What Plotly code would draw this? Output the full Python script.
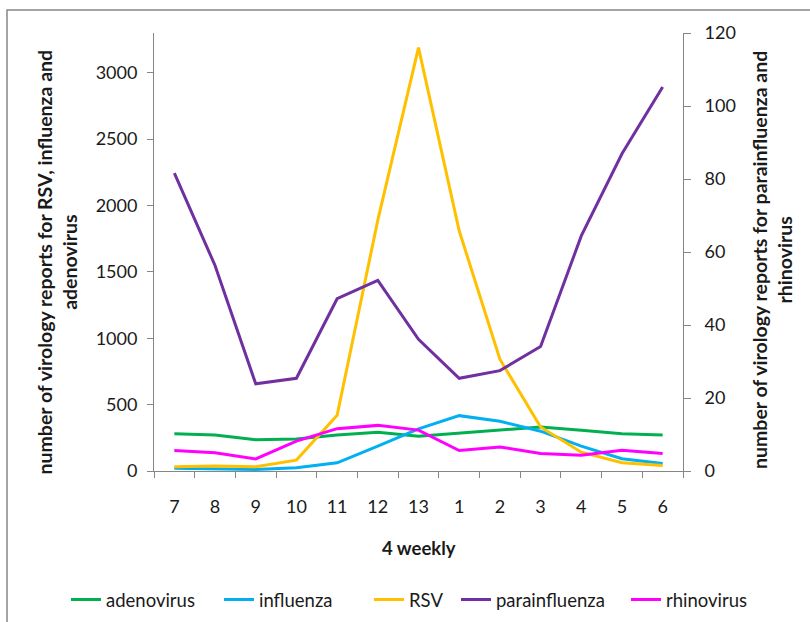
import plotly.graph_objects as go

weeks = ["7", "8", "9", "10", "11", "12", "13", "1", "2", "3", "4", "5", "6"]
adenovirus = [280, 272, 235, 242, 272, 292, 262, 287, 312, 332, 307, 280, 272]
influenza = [20, 17, 12, 25, 62, 187, 317, 417, 375, 300, 187, 92, 57]
rsv = [32, 37, 32, 82, 420, 1890, 3190, 1810, 842, 332, 142, 62, 42]
parainfluenza = [81.6, 56.3, 23.9, 25.4, 47.2, 52.2, 36.1, 25.4, 27.5, 34.1, 64.4, 86.9, 105.2]
rhinovirus = [5.6, 5.0, 3.3, 8.2, 11.6, 12.5, 11.2, 5.6, 6.6, 4.8, 4.3, 5.7, 4.8]

FONT = "Lato, 'Open Sans', sans-serif"
W, H = 810, 622
L, R, T, B = 154, 683, 33, 471


def px(x):
    return (x - L) / (R - L)


def py(y):
    return (B - y) / (B - T)


fig = go.Figure()
series = [
    ("adenovirus", adenovirus, "#00B050", "y", "legend", 66),
    ("influenza", influenza, "#00B0F0", "y", "legend2", 219),
    ("RSV", rsv, "#FFC000", "y", "legend3", 369),
    ("parainfluenza", parainfluenza, "#7030A0", "y2", "legend4", 456),
    ("rhinovirus", rhinovirus, "#FF00FF", "y2", "legend5", 626),
]
axcol = "#868686"
leg_common = dict(orientation="h", xref="container", yref="container",
                  xanchor="left", y=1 - 600 / H, yanchor="middle",
                  font=dict(size=18.5), bgcolor="rgba(0,0,0,0)", itemwidth=30)
legends = {}
for name, vals, col, ax, lg, lx in series:
    fig.add_trace(go.Scatter(x=weeks, y=vals, name=name, mode="lines",
                             line=dict(color=col, width=3), yaxis=ax, legend=lg))
    legends[lg] = dict(x=lx / W, **leg_common)

fig.update_layout(
    width=W, height=H,
    margin=dict(l=L, r=W - R, t=T, b=H - B, autoexpand=False),
    paper_bgcolor="white", plot_bgcolor="white",
    font=dict(family=FONT, size=18, color="#1a1a1a"),
    showlegend=True,
    xaxis=dict(type="category", range=[-0.5, 12.5], showgrid=False, showline=True,
               linecolor=axcol, linewidth=1, ticks="outside", tickson="boundaries",
               ticklen=6, tickcolor=axcol, ticklabelstandoff=19, zeroline=False),
    yaxis=dict(range=[0, 3300], dtick=500, showgrid=False, showline=True,
               linecolor=axcol, linewidth=1, ticks="outside", ticklen=6,
               tickcolor=axcol, ticklabelstandoff=6, zeroline=False),
    yaxis2=dict(range=[0, 120], dtick=20, overlaying="y", side="right", showgrid=False,
                showline=True, linecolor=axcol, linewidth=1, ticks="outside",
                ticklen=7, tickcolor=axcol, ticklabelstandoff=10, zeroline=False),
    **legends,
)

fig.add_annotation(text="<b>4 weekly</b>", xref="paper", yref="paper",
                   x=px(419), y=py(548), showarrow=False, font=dict(size=18.5),
                   xanchor="center", yanchor="middle")
fig.add_annotation(text="<b>number of virology reports for RSV, influenza and<br>adenovirus</b>",
                   xref="paper", yref="paper", x=px(56.5), y=py(262), textangle=-90,
                   showarrow=False, font=dict(size=19.5), xanchor="center", yanchor="middle")
fig.add_annotation(text="<b>number of virology reports for parainfluenza and<br>rhinovirus</b>",
                   xref="paper", yref="paper", x=px(772), y=py(260), textangle=-90,
                   showarrow=False, font=dict(size=19.5), xanchor="center", yanchor="middle")

fig.add_shape(type="rect", xref="paper", yref="paper",
              x0=px(7), x1=px(815), y0=py(628), y1=py(10),
              line=dict(color="#868686", width=1.5), layer="below")

fig.write_html("out.html", config={"displayModeBar": False},
               post_script="document.body.style.margin='0';document.body.style.overflow='hidden';")
